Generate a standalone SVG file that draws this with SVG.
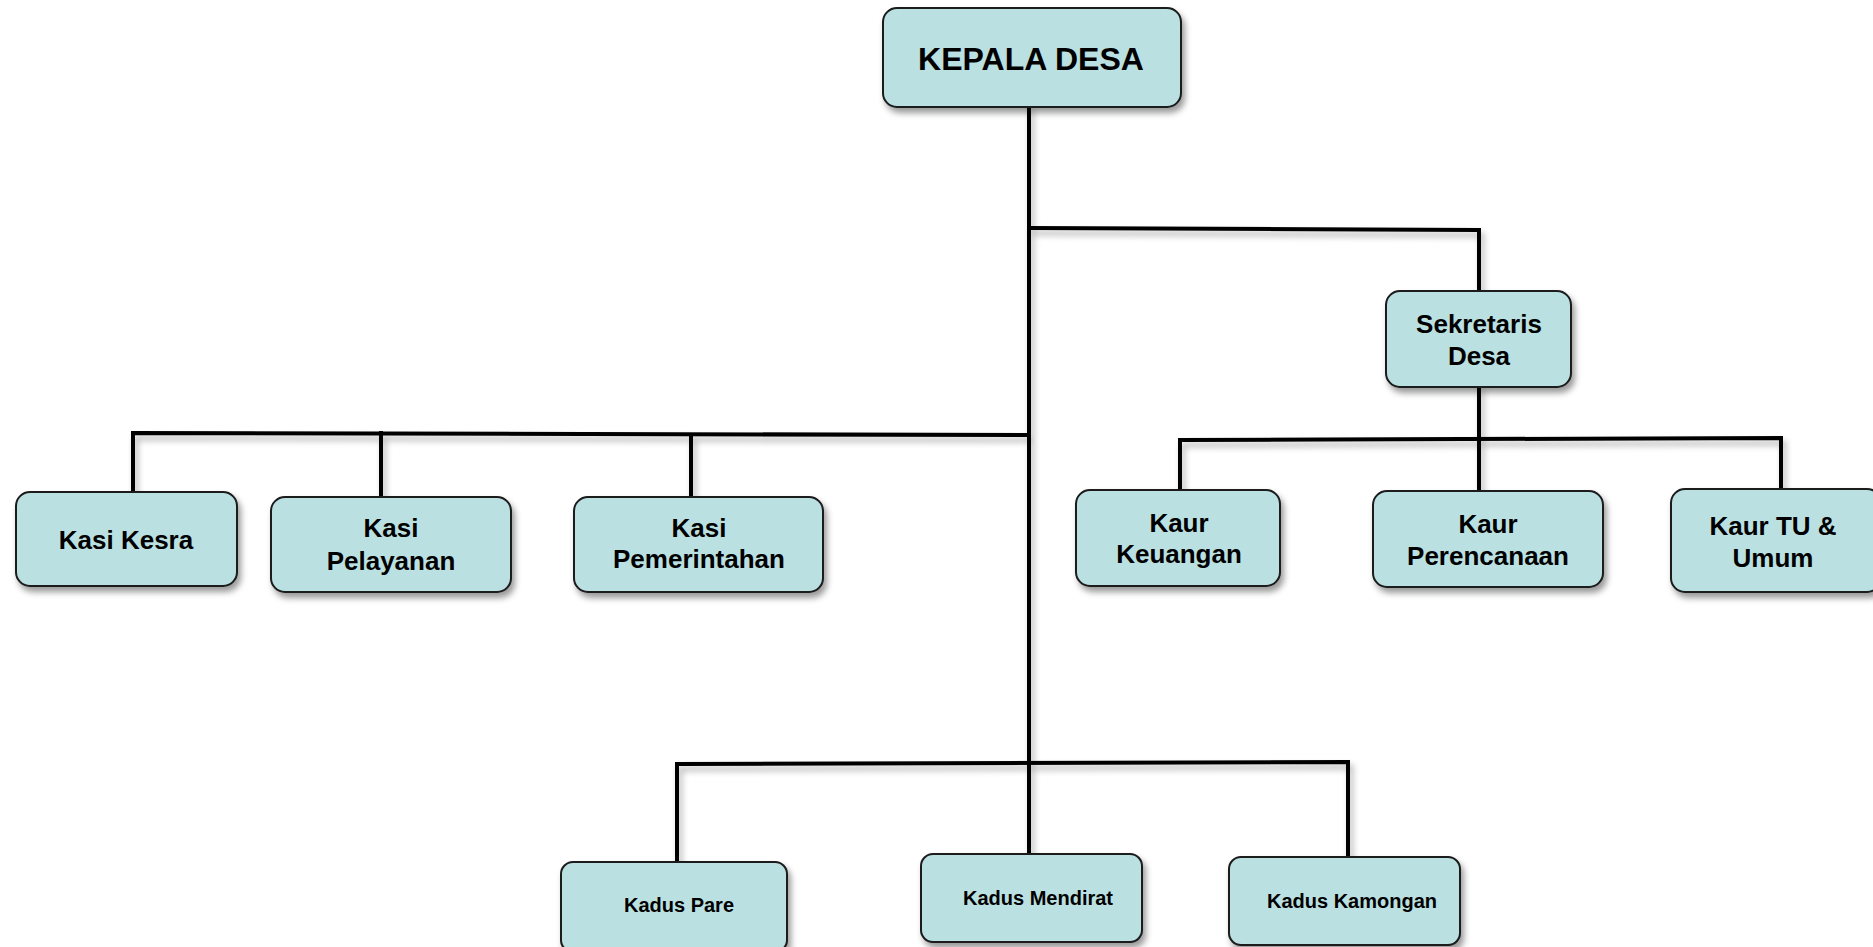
<svg xmlns="http://www.w3.org/2000/svg" width="1873" height="947" viewBox="0 0 1873 947">
<defs>
<filter id="sh" x="-10%" y="-10%" width="130%" height="140%">
<feDropShadow dx="3" dy="5" stdDeviation="3" flood-color="#000" flood-opacity="0.4"/>
</filter>
<filter id="lsh" x="-5%" y="-5%" width="110%" height="110%">
<feDropShadow dx="3" dy="5" stdDeviation="3" flood-color="#000" flood-opacity="0.3"/>
</filter>
</defs>
<style>
.box{fill:#bae0e2;stroke:#1a1a1a;stroke-width:2;filter:url(#sh)}
.t{font-family:"Liberation Sans",Arial,sans-serif;font-weight:bold;fill:#000;text-anchor:middle}
.m{font-size:26px}
.s{font-size:20px}
.ln{stroke:#000;stroke-width:4;fill:none;stroke-linecap:square}
</style>
<rect width="1873" height="947" fill="#fff"/>
<g id="connectors" filter="url(#lsh)">
<path class="ln" d="M1029 107 V854"/>
<path class="ln" d="M1029 228 L1479 230 V291"/>
<path class="ln" d="M133 492 V433 L1029 435"/>
<path class="ln" d="M381 433 V497"/>
<path class="ln" d="M691 435 V497"/>
<path class="ln" d="M1479 387 V491"/>
<path class="ln" d="M1180 490 V440 L1781 438 V489"/>
<path class="ln" d="M677 862 V764 L1348 762 V857"/>
</g>
<g id="kepala-desa">
<rect class="box" x="883" y="8" width="298" height="99" rx="14"/>
<text class="t" x="1031" y="70" font-size="32">KEPALA DESA</text>
</g>
<g id="sekretaris-desa">
<rect class="box" x="1386" y="291" width="185" height="96" rx="14"/>
<text class="t m" x="1479" y="333">Sekretaris</text>
<text class="t m" x="1479" y="365">Desa</text>
</g>
<g id="kasi-kesra">
<rect class="box" x="16" y="492" width="221" height="94" rx="14"/>
<text class="t m" x="126" y="549">Kasi Kesra</text>
</g>
<g id="kasi-pelayanan">
<rect class="box" x="271" y="497" width="240" height="95" rx="14"/>
<text class="t m" x="391" y="537">Kasi</text>
<text class="t m" x="391" y="570">Pelayanan</text>
</g>
<g id="kasi-pemerintahan">
<rect class="box" x="574" y="497" width="249" height="95" rx="14"/>
<text class="t m" x="699" y="537">Kasi</text>
<text class="t m" x="699" y="568">Pemerintahan</text>
</g>
<g id="kaur-keuangan">
<rect class="box" x="1076" y="490" width="204" height="96" rx="14"/>
<text class="t m" x="1179" y="532">Kaur</text>
<text class="t m" x="1179" y="563">Keuangan</text>
</g>
<g id="kaur-perencanaan">
<rect class="box" x="1373" y="491" width="230" height="96" rx="14"/>
<text class="t m" x="1488" y="533">Kaur</text>
<text class="t m" x="1488" y="565">Perencanaan</text>
</g>
<g id="kaur-tu-umum">
<rect class="box" x="1671" y="489" width="210" height="103" rx="14"/>
<text class="t m" x="1773" y="535">Kaur TU &amp;</text>
<text class="t m" x="1773" y="567">Umum</text>
</g>
<g id="kadus-pare">
<rect class="box" x="561" y="862" width="226" height="90" rx="12"/>
<text class="t s" x="679" y="912">Kadus Pare</text>
</g>
<g id="kadus-mendirat">
<rect class="box" x="921" y="854" width="221" height="88" rx="12"/>
<text class="t s" x="1038" y="905">Kadus Mendirat</text>
</g>
<g id="kadus-kamongan">
<rect class="box" x="1229" y="857" width="231" height="88" rx="12"/>
<text class="t s" x="1352" y="908">Kadus Kamongan</text>
</g>
</svg>
